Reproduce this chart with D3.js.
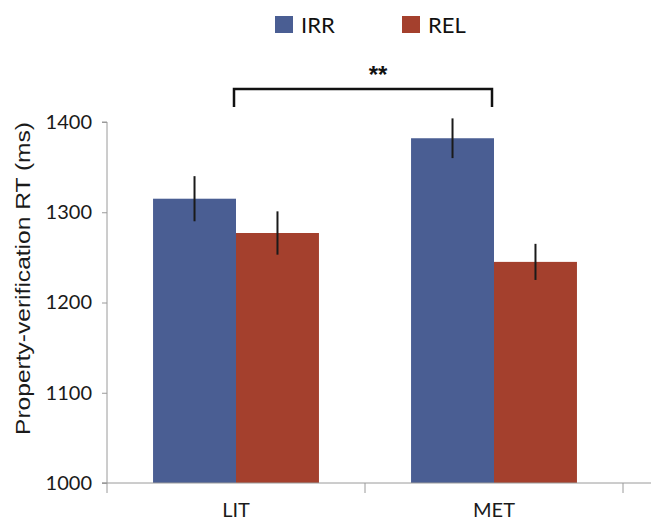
<!DOCTYPE html>
<html><head><meta charset="utf-8">
<script src="https://cdn.jsdelivr.net/npm/d3@7"></script>
<style>body{margin:0;background:#fff}svg{display:block}</style>
</head><body>
<script>
const categories = ["LIT", "MET"];
const seriesNames = ["IRR", "REL"];
const irrValues = [1315, 1382];
const relValues = [1277, 1245];
const irrErrors = [25, 22];
const relErrors = [24, 20];
const yTicks = [1000, 1100, 1200, 1300, 1400];
const colors = ["#4a5e93", "#a4402d"];

const W = 651, H = 521;
const svg = d3.select("body").append("svg").attr("width", W).attr("height", H);
const font = "Lato, 'Open Sans', sans-serif";
const font2 = "'Liberation Sans', Arial, sans-serif";

const y = d3.scaleLinear().domain([1000, 1400]).range([483, 122]);
const x0 = d3.scaleBand().domain(categories).range([107, 623]).paddingInner(0).paddingOuter(0);
const x1 = d3.scaleBand().domain(seriesNames).range([0, x0.bandwidth()]).paddingOuter(0.555).paddingInner(0);

// y axis
const yAxis = d3.axisLeft(y).tickValues(yTicks).tickSize(5).tickPadding(10).tickFormat(d3.format("d"));
const gy = svg.append("g").attr("transform", "translate(107,0)").call(yAxis);
gy.select(".domain").attr("stroke", "#9a9a9a").attr("d", "M-5,122H0V483H-5");
gy.selectAll(".tick line").attr("stroke", "#9a9a9a");
gy.selectAll(".tick text").attr("font-family", font).attr("font-size", 20).attr("fill", "#1a1a1a");

// bars
const data = categories.map((c, i) => ({c, vals: [
  {s: "IRR", v: irrValues[i], e: irrErrors[i]},
  {s: "REL", v: relValues[i], e: relErrors[i]}]}));
const g = svg.selectAll(".cat").data(data).enter().append("g")
  .attr("transform", d => `translate(${x0(d.c)},0)`);
g.selectAll("rect").data(d => d.vals).enter().append("rect")
  .attr("x", d => x1(d.s)).attr("width", x1.bandwidth())
  .attr("y", d => y(d.v)).attr("height", d => y(1000) - y(d.v))
  .attr("fill", (d, i) => colors[i]);
g.selectAll("line.err").data(d => d.vals).enter().append("line")
  .attr("class", "err")
  .attr("x1", d => x1(d.s) + x1.bandwidth() / 2).attr("x2", d => x1(d.s) + x1.bandwidth() / 2)
  .attr("y1", d => y(d.v + d.e)).attr("y2", d => y(d.v - d.e))
  .attr("stroke", "#1a1a1a").attr("stroke-width", 2);

// x axis
const xAxis = d3.axisBottom(x0).tickSize(0).tickPadding(20);
const gx = svg.append("g").attr("transform", "translate(0,483)").call(xAxis);
gx.select(".domain").attr("stroke", "#9a9a9a").attr("d", "M102,0H651");
gx.selectAll(".tick text").attr("font-family", font).attr("font-size", 20).attr("fill", "#1a1a1a");
const boundaries = [x0.range()[0], x0(categories[1]), x0.range()[1]];
gx.selectAll("line.bnd").data(boundaries).enter().append("line")
  .attr("x1", d => d).attr("x2", d => d).attr("y1", 0).attr("y2", 10)
  .attr("stroke", "#9a9a9a");

// y label
svg.append("text").attr("transform", "translate(30,278.5) rotate(-90)")
  .attr("text-anchor", "middle").attr("font-family", font2).attr("font-size", 21)
  .attr("textLength", 313).attr("lengthAdjust", "spacingAndGlyphs")
  .attr("fill", "#1a1a1a").text("Property-verification RT (ms)");

// legend
const legX = [275, 402];
seriesNames.forEach((s, i) => {
  svg.append("rect").attr("x", legX[i]).attr("y", 16).attr("width", 18).attr("height", 17).attr("fill", colors[i]);
  svg.append("text").attr("x", legX[i] + 26).attr("y", 33).attr("font-family", font)
    .attr("font-size", 22).attr("fill", "#111").text(s);
});

// significance bracket
const bx1 = x0("LIT") + x0.bandwidth() / 2, bx2 = x0("MET") + x0.bandwidth() / 2;
svg.append("path").attr("d", `M${bx1-2},107V89H${bx2-2}V107`).attr("fill", "none")
  .attr("stroke", "#111").attr("stroke-width", 2.5);
svg.append("text").attr("x", 378).attr("y", 83).attr("text-anchor", "middle")
  .attr("font-family", font2).attr("font-weight", "bold").attr("font-size", 24).attr("fill", "#111").text("**");
</script>
</body></html>
